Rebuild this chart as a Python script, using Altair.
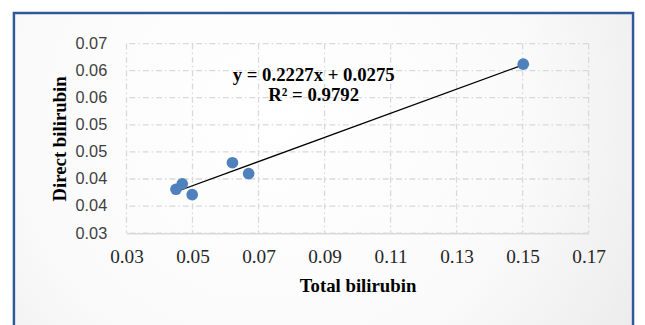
import altair as alt
import pandas as pd

# data
total_bilirubin = [0.045, 0.0469, 0.0499, 0.0621, 0.067, 0.1502]
direct_bilirubin = [0.0381, 0.0391, 0.0371, 0.0430, 0.0410, 0.0612]

x_ticks = [0.03, 0.05, 0.07, 0.09, 0.11, 0.13, 0.15, 0.17]
y_ticks = [0.03, 0.035, 0.04, 0.045, 0.05, 0.055, 0.06, 0.065]
y_tick_labels = ["0.03", "0.04", "0.04", "0.05", "0.05", "0.06", "0.06", "0.07"]

eq_lines = ["y = 0.2227x + 0.0275", "R² = 0.9792"]
eq_x = [0.0867, 0.0867]
eq_y = [0.0591, 0.0554]

W, H = 468, 192

pts = pd.DataFrame({"x": total_bilirubin, "y": direct_bilirubin})
xt = pd.DataFrame({"x": x_ticks})
yt = pd.DataFrame({"y": y_ticks})
ann = pd.DataFrame({"x": eq_x, "y": eq_y, "t": eq_lines})
frame_df = pd.DataFrame({"a": [0]})

xscale = alt.Scale(domain=[x_ticks[0], x_ticks[-1]], nice=False, zero=False)
yscale = alt.Scale(domain=[y_ticks[0], y_ticks[-1]], nice=False, zero=False)

label_arr = "[" + ",".join("'%s'" % s for s in y_tick_labels) + "]"
y_label_expr = f"{label_arr}[round((datum.value - {y_ticks[0]}) / {y_ticks[1] - y_ticks[0]})]"

grid_dash = [6, 3, 1.5, 3]
grid_color = "#D9D9D9"

x_axis = alt.Axis(
    title="Total bilirubin",
    values=x_ticks,
    format=".2f",
    grid=False,
    ticks=False,
    domain=True,
    domainColor=grid_color,
    domainWidth=1.5,
    labelFont="Liberation Serif",
    labelFontSize=19.5,
    labelColor="#262626",
    labelPadding=15,
    labelOverlap=False,
    labelFlush=False,
    titleFont="Liberation Serif",
    titleFontSize=19,
    titleFontWeight="bold",
    titleColor="#000000",
    titlePadding=11,
    zindex=1,
)

y_axis = alt.Axis(
    title="Direct bilirubin",
    values=y_ticks,
    labelExpr=y_label_expr,
    labelOverlap=False,
    labelFlush=False,
    grid=False,
    ticks=False,
    domain=False,
    labelFont="Liberation Sans",
    labelFontSize=16.5,
    labelColor="#404040",
    labelPadding=20,
    titleFont="Liberation Serif",
    titleFontSize=19,
    titleFontWeight="bold",
    titleColor="#000000",
    titlePadding=6,
    zindex=1,
)

frame = alt.Chart(frame_df).mark_rect(
    fill={
        "gradient": "radial",
        "x1": 0.42, "y1": 0.4, "r1": 0,
        "x2": 0.42, "y2": 0.4, "r2": 0.75,
        "stops": [
            {"offset": 0, "color": "#FFFFFF"},
            {"offset": 0.55, "color": "#FAFAFA"},
            {"offset": 1, "color": "#E8E8E8"},
        ],
    },
    stroke="#2F5A9A",
    strokeWidth=2.5,
).encode(
    x=alt.value(-114), x2=alt.value(513), y=alt.value(-31), y2=alt.value(300)
)

vgrid = alt.Chart(xt).mark_rule(
    color=grid_color, strokeWidth=1.3, strokeDash=grid_dash
).encode(x=alt.X("x:Q", scale=xscale, axis=x_axis))

hgrid = alt.Chart(yt).mark_rule(
    color=grid_color, strokeWidth=1.3, strokeDash=grid_dash
).encode(y=alt.Y("y:Q", scale=yscale, axis=y_axis))

base = alt.Chart(pts)

points = base.mark_circle(size=140, opacity=1, color="#4F81BD").encode(
    x=alt.X("x:Q", scale=xscale, axis=x_axis),
    y=alt.Y("y:Q", scale=yscale, axis=y_axis),
)

trend = base.transform_regression("x", "y", method="linear").mark_line(
    color="#000000", strokeWidth=1.3
).encode(
    x=alt.X("x:Q", scale=xscale, axis=x_axis),
    y=alt.Y("y:Q", scale=yscale, axis=y_axis),
)

eq = alt.Chart(ann).mark_text(
    font="Liberation Serif", fontSize=19, fontWeight="bold", color="#000000",
    align="center", baseline="middle",
).encode(
    x=alt.X("x:Q", scale=xscale, axis=x_axis),
    y=alt.Y("y:Q", scale=yscale, axis=y_axis),
    text="t:N",
)

chart = alt.layer(frame, vgrid, hgrid, trend, points, eq).properties(
    width=W,
    height=H,
    autosize=alt.AutoSizeParams(type="none"),
    padding={"left": 120, "top": 34, "right": 49, "bottom": 91},
    background="#FFFFFF",
).configure_view(stroke=None)

chart.save("out.html", embed_options={"renderer": "svg", "actions": False})
